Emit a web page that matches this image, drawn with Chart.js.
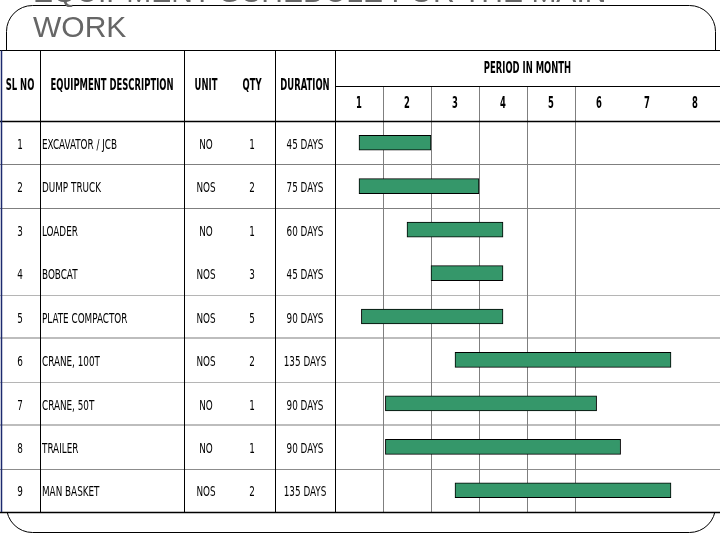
<!DOCTYPE html>
<html><head><meta charset="utf-8">
<script src="https://cdn.jsdelivr.net/npm/chart.js@4.4.1/dist/chart.umd.min.js"></script>
<style>html,body{margin:0;padding:0;background:#fff}#wrap{width:720px;height:540px;position:relative}</style>
</head><body><div id="wrap"><canvas id="c"></canvas></div>
<script>
// ---- data ----
const titleLines = ['EQUIPMENT SCHEDULE FOR THE MAIN', 'WORK'];
const tableHeaders = ['SL NO', 'EQUIPMENT DESCRIPTION', 'UNIT', 'QTY', 'DURATION'];
const periodHeader = 'PERIOD IN MONTH';
const monthLabels = ['1', '2', '3', '4', '5', '6', '7', '8'];
const slNo = ['1', '2', '3', '4', '5', '6', '7', '8', '9'];
const equipment = ['EXCAVATOR / JCB', 'DUMP TRUCK', 'LOADER', 'BOBCAT', 'PLATE COMPACTOR', 'CRANE, 100T', 'CRANE, 50T', 'TRAILER', 'MAN BASKET'];
const units = ['NO', 'NOS', 'NO', 'NOS', 'NOS', 'NOS', 'NO', 'NO', 'NOS'];
const qty = ['1', '2', '1', '3', '5', '2', '1', '1', '2'];
const durations = ['45 DAYS', '75 DAYS', '60 DAYS', '45 DAYS', '90 DAYS', '135 DAYS', '90 DAYS', '90 DAYS', '135 DAYS'];
const startMonth = [0.5, 0.5, 1.5, 2.0, 0.55, 2.5, 1.05, 1.05, 2.5];
const endMonth = [2.0, 3.0, 3.5, 3.5, 3.5, 7.0, 5.45, 5.95, 7.0];

// ---- styles ----
const NARROW = "'Liberation Sans Narrow','Arial Narrow','DejaVu Sans Condensed',sans-serif";
const rowLineStyles = [
  {c:'#7f7f7f', w:1}, {c:'#7f7f7f', w:1}, null, {c:'#b5b5b5', w:1},
  {c:'#bdbdbd', w:2}, {c:'#b5b5b5', w:1}, {c:'#bdbdbd', w:2}, {c:'#8c8c8c', w:1}
];

function txt(ctx, s, x, y, align, font, sx, sy) {
  ctx.save();
  ctx.translate(x, y);
  ctx.scale(sx, sy);
  ctx.font = font;
  ctx.fillStyle = '#000';
  ctx.textAlign = align;
  ctx.textBaseline = 'middle';
  ctx.fillText(s, 0, 0);
  ctx.restore();
}
function line(ctx, x1, y1, x2, y2, c, w) {
  ctx.save();
  ctx.strokeStyle = c; ctx.lineWidth = w;
  ctx.beginPath(); ctx.moveTo(x1, y1); ctx.lineTo(x2, y2); ctx.stroke();
  ctx.restore();
}

const tablePlugin = {
  id: 'tablePlugin',
  beforeDatasetsDraw(chart) {
    const ctx = chart.ctx;
    const xs = chart.scales.x, ys = chart.scales.y;
    const top = ys.top, bottom = ys.bottom, left = xs.left;
    const rowH = (bottom - top) / slNo.length;
    const headTop = 50.5, subHead = 86.5;
    // frame
    ctx.save();
    ctx.strokeStyle = '#000'; ctx.lineWidth = 1;
    ctx.beginPath(); ctx.roundRect(6.5, 5.5, 709, 527, 26); ctx.stroke();
    ctx.fillStyle = '#fff';
    ctx.fillRect(0, headTop, 720, bottom - headTop);
    ctx.restore();
    // title
    ctx.save();
    ctx.font = "30px 'Liberation Sans', Arial, sans-serif";
    ctx.fillStyle = '#666666';
    ctx.textAlign = 'left'; ctx.textBaseline = 'alphabetic';
    ctx.fillText(titleLines[0], 33, 2);
    ctx.fillText(titleLines[1], 33, 37);
    ctx.restore();
    // row lines
    for (let i = 0; i < slNo.length - 1; i++) {
      const st = rowLineStyles[i];
      if (!st) continue;
      const y = Math.round(ys.getPixelForValue(i) + rowH / 2) + (st.w === 1 ? 0.5 : 0);
      line(ctx, 0, y, 720, y, st.c, st.w);
    }
    // month grid lines
    for (let m = 1; m <= 5; m++) {
      const x = Math.round(xs.getPixelForValue(m)) + 0.5;
      line(ctx, x, subHead, x, bottom, '#7f7f7f', 1);
    }
    // table lines
    line(ctx, 0, headTop, 720, headTop, '#000', 1);
    line(ctx, left, subHead, 720, subHead, '#000', 1);
    line(ctx, 0, Math.round(top) + 0.5, 720, Math.round(top) + 0.5, '#000', 1.5);
    line(ctx, 0, Math.round(bottom) + 0.5, 720, Math.round(bottom) + 0.5, '#000', 1.5);
    [40.5, 184.5, 275.5, Math.round(left) + 0.5].forEach(x => line(ctx, x, headTop, x, bottom, '#000', 1));
    line(ctx, 1.5, headTop, 1.5, bottom, '#1c2a6e', 1.5);
    // calibrate narrow look
    const HB = "bold 12px " + NARROW;
    const BF = "11px " + NARROW;
    ctx.font = HB;
    const hsx = 123 / ctx.measureText(tableHeaders[1]).width;
    ctx.font = BF;
    const bsx = 75 / ctx.measureText(equipment[0]).width;
    const hsy = 12 / (12 * 0.729), bsy = 10.3 / (11 * 0.729);
    // header text
    const hy = (headTop + top) / 2;
    const hx = [20, 112, 206, 252, 305];
    tableHeaders.forEach((h, i) => txt(ctx, h, hx[i], hy, 'center', HB, hsx, hsy));
    txt(ctx, periodHeader, (left + 720) / 2, (headTop + subHead) / 2, 'center', HB, hsx, hsy);
    monthLabels.forEach((m, i) => txt(ctx, m, xs.getPixelForValue(i + 0.5), (subHead + top) / 2, 'center', HB, hsx, hsy));
    // body text
    for (let i = 0; i < slNo.length; i++) {
      const y = ys.getPixelForValue(i) + 2.5;
      txt(ctx, slNo[i], 20, y, 'center', BF, bsx, bsy);
      txt(ctx, equipment[i], 42, y, 'left', BF, bsx, bsy);
      txt(ctx, units[i], 206, y, 'center', BF, bsx, bsy);
      txt(ctx, qty[i], 252, y, 'center', BF, bsx, bsy);
      txt(ctx, durations[i], 305, y, 'center', BF, bsx, bsy);
    }
  }
};

new Chart(document.getElementById('c'), {
  type: 'bar',
  data: {
    labels: equipment,
    datasets: [{
      data: startMonth.map((s, i) => [s, endMonth[i]]),
      backgroundColor: '#35976a',
      borderColor: '#000',
      borderWidth: 1,
      borderSkipped: false,
      barThickness: 15
    }]
  },
  options: {
    indexAxis: 'y',
    responsive: true,
    maintainAspectRatio: false,
    animation: false,
    layout: { padding: { left: 335, right: 1, top: 121, bottom: 28 } },
    scales: {
      x: { type: 'linear', min: 0, max: 8, display: false },
      y: { display: false }
    },
    plugins: { legend: { display: false }, tooltip: { enabled: false } }
  },
  plugins: [tablePlugin]
});
</script>
</body></html>
